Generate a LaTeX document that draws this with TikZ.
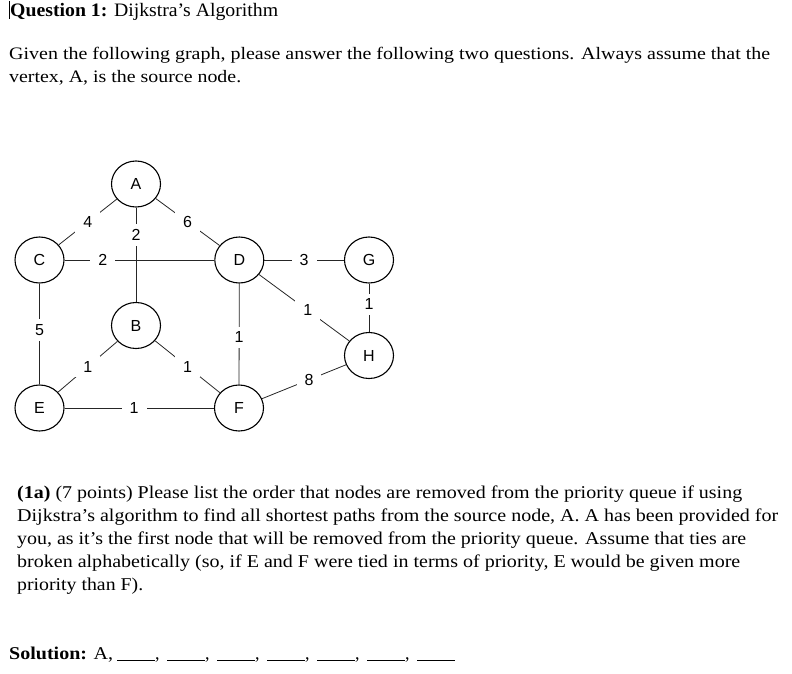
\documentclass[tikz,border=0pt]{standalone}
\usepackage{fontspec}
\setmainfont{Liberation Serif}
\newfontfamily\gsans{Liberation Sans}
\usetikzlibrary{shapes.geometric}
\newcommand\fitline[2]{\resizebox{#1pt}{\height}{#2}}
\newcommand\blankline{\rule[-1.6pt]{38pt}{0.9pt}}
\begin{document}
\begin{tikzpicture}[x=1pt,y=-1pt,
  vert/.style={ellipse,draw,line width=1.1pt,minimum width=49pt,minimum height=46pt,inner sep=0pt,font=\gsans\fontsize{16}{16}\selectfont},
  edge/.style={draw=black!85,line width=0.8pt},
  wt/.style={fill=white,inner xsep=8pt,inner ysep=5pt,font=\gsans\fontsize{16}{16}\selectfont},
  txt/.style={anchor=base west,inner sep=0pt}]
\useasboundingbox (0,0) rectangle (792,674);

% text
\draw[line width=0.8pt] (9,1) coordinate (cur1) -- (9,19) coordinate (cur2);
\node[txt] (title) at (10,17) {\fitline{268}{\fontsize{19}{22}\selectfont\textbf{Question 1:} Dijkstra’s Algorithm}};
\node[txt] (g1) at (9,60) {\fitline{761}{\fontsize{17.5}{20}\selectfont Given the following graph, please answer the following two questions. Always assume that the}};
\node[txt] (g2) at (9,83) {\fitline{232}{\fontsize{17.5}{20}\selectfont vertex, A, is the source node.}};

\node[txt] (p1) at (17,498) {\fitline{725}{\fontsize{18}{20}\selectfont\textbf{(1a)} (7 points) Please list the order that nodes are removed from the priority queue if using}};
\node[txt] (p2) at (17,521) {\fitline{761}{\fontsize{18}{20}\selectfont Dijkstra’s algorithm to find all shortest paths from the source node, A. A has been provided for}};
\node[txt] (p3) at (17,544) {\fitline{729}{\fontsize{18}{20}\selectfont you, as it’s the first node that will be removed from the priority queue. Assume that ties are}};
\node[txt] (p4) at (17,567) {\fitline{723}{\fontsize{18}{20}\selectfont broken alphabetically (so, if E and F were tied in terms of priority, E would be given more}};
\node[txt] (p5) at (17,590) {\fitline{126}{\fontsize{18}{20}\selectfont priority than F).}};

\node[txt] (sol) at (9,659) {\fitline{104}{\fontsize{18}{20}\selectfont\textbf{Solution:} A,}};
\node[txt] (blanks) at (117,659) {\fontsize{18}{20}\selectfont\blankline,\hspace{7.5pt}\blankline,\hspace{7.5pt}\blankline,\hspace{7.5pt}\blankline,\hspace{7.5pt}\blankline,\hspace{7.5pt}\blankline,\hspace{7.5pt}\blankline};

% graph
\node[vert] (A) at (136,184) {A};
\node[vert] (C) at (39.5,260) {C};
\node[vert] (D) at (239.3,260) {D};
\node[vert] (G) at (369,260) {G};
\node[vert] (B) at (136,325.5) {B};
\node[vert] (H) at (369,355.5) {H};
\node[vert] (E) at (39.5,408) {E};
\node[vert] (F) at (239,408) {F};

\draw[edge] (A) -- (C) node[wt,pos=0.5] {4};
\draw[edge] (A) -- (D) node[wt,pos=0.5] {6};
\draw[edge] (C) -- (D) node[wt,pos=0.256] {2};
\draw[edge] (A) -- (B) node[wt,pos=0.29] {2};
\draw[edge] (D) -- (G) node[wt,pos=0.5] {3};
\draw[edge] (D) -- (H) node[wt,pos=0.54] {1};
\draw[edge] (G) -- (H) node[wt,pos=0.43] {1};
\draw[edge] (C) -- (E) node[wt,pos=0.46] {5};
\draw[edge] (D) -- (F) node[wt,pos=0.53] {1};
\draw[edge] (B) -- (E) node[wt,pos=0.5] {1};
\draw[edge] (B) -- (F) node[wt,pos=0.5] {1};
\draw[edge] (E) -- (F) node[wt,pos=0.466] {1};
\draw[edge] (F) -- (H) node[wt,pos=0.56] {8};
\end{tikzpicture}
\end{document}
